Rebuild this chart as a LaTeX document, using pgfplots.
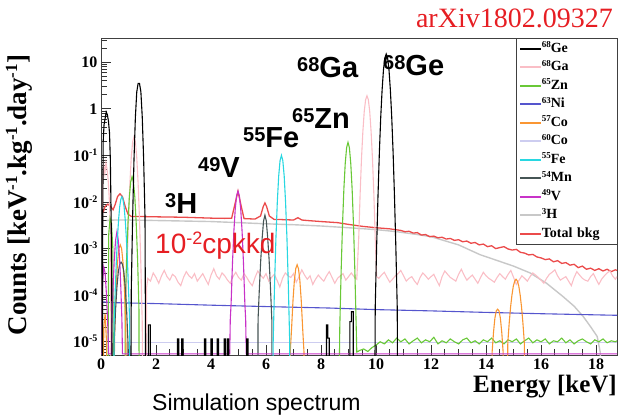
\documentclass[border=0pt]{standalone}
\usepackage{fontspec}
\setmainfont{Liberation Serif}
\newfontfamily\arial{Liberation Sans}
\usepackage{pgfplots}
\pgfplotsset{compat=1.18}

\definecolor{cGe}{RGB}{0,0,0}
\definecolor{cGa}{RGB}{250,190,198}
\definecolor{cZn}{RGB}{105,200,55}
\definecolor{cNi}{RGB}{85,85,205}
\definecolor{cCoS}{RGB}{250,150,50}
\definecolor{cCoO}{RGB}{205,205,240}
\definecolor{cFe}{RGB}{40,215,225}
\definecolor{cMn}{RGB}{70,85,85}
\definecolor{cV}{RGB}{200,50,200}
\definecolor{cH}{RGB}{200,200,200}
\definecolor{cTot}{RGB}{235,75,75}
\definecolor{cRed}{RGB}{230,30,35}

\newcommand\fs[1]{\fontsize{#1}{#1}\selectfont}
% raise, size, text
\newcommand\up[3]{\raisebox{#1}{\fs{#2}#3}}
\newcommand\lsup[1]{\up{4.5pt}{9}{#1}}

\begin{document}
\begin{tikzpicture}
\useasboundingbox (0pt,0pt) rectangle (628pt,416pt);
\begin{axis}[
  at={(101pt,61pt)}, anchor=south west,
  scale only axis, width=516pt, height=317pt,
  xmin=0, xmax=18.76, ymode=log, ymin=5.2e-6, ymax=33,
  axis line style={black!75, line width=0.8pt},
  tick align=inside, xtick pos=bottom, ytick pos=left,
  major tick length=10pt, minor tick length=6pt,
  tick style={black!80, line width=0.7pt},
  xtick={0,2,...,18}, minor x tick num=3,
  xticklabels={0,2,4,6,8,10,12,14,16,18},
  ytick={1e-5,1e-4,1e-3,1e-2,1e-1,1,10},
  yticklabels={10\up{6pt}{10}{-5},10\up{6pt}{10}{-4},10\up{6pt}{10}{-3},10\up{6pt}{10}{-2},10\up{6pt}{10}{-1},1,10},
  minor ytick={6e-6,7e-6,8e-6,9e-6,2e-5,3e-5,4e-5,5e-5,6e-5,7e-5,8e-5,9e-5,2e-4,3e-4,4e-4,5e-4,6e-4,7e-4,8e-4,9e-4,2e-3,3e-3,4e-3,5e-3,6e-3,7e-3,8e-3,9e-3,0.02,0.03,0.04,0.05,0.06,0.07,0.08,0.09,0.2,0.3,0.4,0.5,0.6,0.7,0.8,0.9,2,3,4,5,6,7,8,9,20,30},
  xticklabel style={font=\bfseries\fs{16}},
  yticklabel style={font=\bfseries\fs{16}},
  legend style={at={(1,1)}, anchor=north east, draw=black!75,
    fill=white, font=\bfseries\fs{14}, inner xsep=3pt, inner ysep=3pt,
    row sep=3.5pt, nodes={inner sep=0pt, text height=11pt, text depth=4pt},
    /tikz/every even column/.append style={text width=72pt}},
  legend cell align=left,
  legend image code/.code={\draw[#1, line width=1.6pt] (0pt,0pt) -- (21pt,0pt);},
  every axis plot/.append style={line width=1.1pt},
]

% 60Co
\addplot[forget plot, cCoO] coordinates {(0.5,9.5e-6)(18.76,9.5e-6)};

% 3H
\addplot[forget plot, cH, line width=1.4pt] coordinates {
(0.2,4.0e-3)(0.5,4.1e-3)(1,4.1e-3)(2,4.0e-3)(3,3.9e-3)(4,3.8e-3)(5,3.6e-3)(6,3.4e-3)
(7,3.25e-3)(8,3.05e-3)(9,2.8e-3)(10,2.55e-3)(10.76,2.3e-3)(11.5,2.0e-3)(12,1.8e-3)
(13,1.2e-3)(13.78,7.4e-4)(14.5,5.3e-4)(15.0,4.2e-4)(15.6,3.0e-4)(16.2,1.8e-4)
(16.8,9.3e-5)(17.2,5.8e-5)(17.53,3.5e-5)(17.8,2.1e-5)(18.04,1.3e-5)(18.15,6e-6)(18.22,1e-7)};

% Total bkg
\addplot[forget plot, cTot, line width=1.3pt] coordinates {
(0.08,6e-3)(0.15,8e-3)(0.25,9e-3)(0.35,8e-3)(0.44,6.8e-3)(0.52,9e-3)(0.6,0.013)(0.69,0.015)
(0.78,0.013)(0.88,8e-3)(0.98,5.5e-3)(1.1,4.9e-3)(1.3,4.9e-3)(1.6,4.85e-3)(2,4.8e-3)
(2.5,4.75e-3)(3,4.7e-3)(3.5,4.6e-3)(4,4.5e-3)(4.5,4.45e-3)(4.75,4.5e-3)(4.85,8e-3)
(4.98,0.017)(5.1,8e-3)(5.2,4.4e-3)(5.6,4.3e-3)(5.8,5e-3)(5.9,8e-3)(5.96,9.5e-3)
(6.02,8e-3)(6.12,5e-3)(6.3,4.2e-3)(6.5,4.2e-3)(7.0,4.1e-3)(7.16,4.6e-3)(7.3,4.1e-3)
(7.5,4.0e-3)(8.0,3.8e-3)(8.6,3.6e-3)(9.0,3.3e-3)(9.5,3.0e-3)(10.0,2.8e-3)(10.5,2.65e-3)
(10.8,2.5e-3)(10.9,2.45e-3)(11.05,2.3e-3)(11.2,2.35e-3)(11.35,2.15e-3)(11.5,2.2e-3)
(11.65,1.95e-3)(11.8,2.0e-3)(11.95,1.8e-3)(12.1,1.85e-3)(12.25,1.7e-3)(12.4,1.75e-3)
(12.55,1.6e-3)(12.7,1.65e-3)(12.85,1.5e-3)(13.0,1.55e-3)(13.15,1.4e-3)(13.3,1.45e-3)
(13.45,1.3e-3)(13.6,1.35e-3)(13.75,1.2e-3)(13.9,1.25e-3)(14.05,1.1e-3)(14.2,1.15e-3)
(14.35,1.0e-3)(14.5,1.05e-3)(14.65,1.1e-3)(14.8,0.98e-3)(14.95,0.93e-3)(15.1,0.96e-3)
(15.25,0.83e-3)(15.4,0.8e-3)(15.55,0.73e-3)(15.7,0.75e-3)(15.85,0.66e-3)(16.0,0.63e-3)
(16.15,0.58e-3)(16.3,0.6e-3)(16.45,0.52e-3)(16.6,0.55e-3)(16.75,0.48e-3)(16.9,0.5e-3)
(17.05,0.44e-3)(17.2,0.46e-3)(17.35,0.39e-3)(17.5,0.42e-3)(17.65,0.36e-3)(17.8,0.38e-3)
(17.95,0.34e-3)(18.1,0.37e-3)(18.25,0.33e-3)(18.4,0.36e-3)(18.55,0.32e-3)(18.7,0.35e-3)
(18.76,0.34e-3)};

% 63Ni
\addplot[forget plot, cNi] coordinates {
(0.02,7.2e-5)(0.5,6.9e-5)(2,6.6e-5)(4,6.1e-5)(6.5,5.6e-5)(8.3,5.3e-5)(10,4.9e-5)
(12,4.6e-5)(13.8,4.3e-5)(16,4.0e-5)(18.76,3.7e-5)};

% 68Ga
\addplot[forget plot, cGa] coordinates {
(0.05,1e-7)(0.06,0.03)(0.1,0.06)(0.14,0.04)(0.18,0.07)(0.22,0.05)(0.26,0.03)(0.3,0.012)
(0.34,3e-3)(0.38,1e-7)
(0.85,1e-7)(0.9,2.5e-5)(0.95,4.2e-4)(1.0,4.2e-3)(1.05,0.025)(1.1,0.09)(1.15,0.194)
(1.2,0.25)(1.25,0.194)(1.3,0.09)(1.35,0.025)(1.4,4.2e-3)(1.45,4.2e-4)(1.5,2.5e-5)(1.52,1e-7)
(1.64,1e-7)(1.66,1.5e-4)
(1.7,2.3e-4)(1.8,2.0e-4)(1.9,3.0e-4)(2.0,2.4e-4)(2.1,1.8e-4)(2.2,2.6e-4)(2.3,3.4e-4)
(2.4,2.5e-4)(2.5,2.1e-4)(2.6,2.8e-4)(2.7,2.5e-4)(2.8,1.9e-4)(2.9,1.6e-4)(3.0,2.4e-4)
(3.1,3.2e-4)(3.2,2.6e-4)(3.3,2.3e-4)(3.4,2.9e-4)(3.5,2.0e-4)(3.6,2.4e-4)(3.7,2.9e-4)
(3.8,2.2e-4)(3.9,1.7e-4)(4.0,2.7e-4)(4.1,3.7e-4)(4.2,2.6e-4)(4.3,2.2e-4)(4.4,3.0e-4)
(4.5,2.6e-4)(4.6,2.1e-4)(4.7,1.8e-4)(4.8,2.5e-4)(4.9,3.1e-4)(5.0,2.4e-4)(5.1,2.1e-4)
(5.2,2.9e-4)(5.3,2.4e-4)(5.4,1.9e-4)(5.5,1.6e-4)(5.6,2.4e-4)(5.7,3.3e-4)(5.8,2.7e-4)
(5.9,2.3e-4)(6.0,2.9e-4)(6.1,2.0e-4)(6.2,2.4e-4)(6.3,2.8e-4)(6.4,2.1e-4)(6.5,1.5e-4)
(6.6,2.3e-4)(6.7,3.0e-4)(6.8,2.6e-4)(6.9,2.4e-4)(7.0,2.9e-4)(7.1,1.9e-4)(7.2,2.5e-4)
(7.3,3.5e-4)(7.4,2.7e-4)(7.5,2.2e-4)(7.6,2.6e-4)(7.7,1.7e-4)(7.8,2.2e-4)(7.9,2.7e-4)
(8.0,2.3e-4)(8.1,2.0e-4)(8.2,2.6e-4)(8.3,3.2e-4)(8.4,2.4e-4)(8.5,1.8e-4)(8.6,2.3e-4)
(8.7,2.6e-4)(8.8,2.9e-4)(8.9,2.1e-4)(9.0,2.5e-4)(9.1,3.0e-4)(9.2,2.5e-4)(9.3,2.2e-4)
(9.37,1.67e-3)(9.42,0.0144)(9.47,0.084)(9.52,0.32)(9.57,0.87)(9.62,1.56)(9.67,1.9)
(9.72,1.56)(9.77,0.87)(9.82,0.32)(9.87,0.084)(9.92,0.0144)(9.97,1.67e-3)(10.02,2.5e-4)
(10.1,2.3e-4)(10.2,2.7e-4)(10.3,3.1e-4)(10.4,2.4e-4)(10.5,1.9e-4)(10.6,2.2e-4)(10.7,2.6e-4)
(10.8,2.9e-4)(10.9,3.4e-4)(11.0,2.6e-4)(11.1,2.0e-4)(11.2,2.3e-4)(11.3,2.5e-4)(11.4,2.0e-4)
(11.5,1.7e-4)(11.6,2.4e-4)(11.7,3.0e-4)(11.8,2.6e-4)(11.9,2.2e-4)(12.0,2.5e-4)(12.1,2.8e-4)
(12.2,2.1e-4)(12.3,1.6e-4)(12.4,2.5e-4)(12.5,3.3e-4)(12.6,2.8e-4)(12.7,2.4e-4)(12.8,2.2e-4)
(12.9,2.0e-4)(13.0,2.8e-4)(13.1,3.6e-4)(13.2,2.7e-4)(13.3,2.1e-4)(13.4,2.4e-4)(13.5,2.7e-4)
(13.6,2.2e-4)(13.7,1.8e-4)(13.8,2.4e-4)(13.9,3.1e-4)(14.0,2.6e-4)(14.1,2.3e-4)(14.2,2.1e-4)
(14.3,1.9e-4)(14.4,2.4e-4)(14.5,2.9e-4)(14.6,2.5e-4)(14.7,2.2e-4)(14.8,2.8e-4)(14.9,3.4e-4)
(15.0,2.4e-4)(15.1,1.7e-4)(15.2,2.1e-4)(15.3,2.6e-4)(15.4,2.3e-4)(15.5,2.0e-4)(15.6,2.5e-4)
(15.7,3.0e-4)(15.8,2.7e-4)(15.9,2.4e-4)(16.0,2.1e-4)(16.1,1.8e-4)(16.2,2.3e-4)(16.3,2.8e-4)
(16.4,3.1e-4)(16.5,3.5e-4)(16.6,2.6e-4)(16.7,2.1e-4)(16.8,2.3e-4)(16.9,2.5e-4)(17.0,2.0e-4)
(17.1,1.6e-4)(17.2,2.4e-4)(17.3,3.2e-4)(17.4,2.7e-4)(17.5,2.3e-4)(17.6,2.1e-4)(17.7,2.0e-4)
(17.8,2.5e-4)(17.9,2.9e-4)(18.0,2.2e-4)(18.1,1.7e-4)(18.2,2.2e-4)(18.3,2.6e-4)(18.4,3.0e-4)
(18.5,3.3e-4)(18.6,2.6e-4)(18.7,2.2e-4)(18.76,2.5e-4)};

% 65Zn
\addplot[forget plot, cZn] coordinates {
(0.25,1e-7)(0.28,2e-3)(0.33,4.5e-3)(0.38,3.5e-3)(0.43,1e-3)(0.46,1e-7)
(0.87,1e-7)(0.88,5e-5)(0.93,6e-4)(0.98,3.5e-3)(1.03,0.0126)(1.08,0.027)(1.13,0.035)
(1.18,0.027)(1.23,0.0126)(1.28,3.5e-3)(1.33,6e-4)(1.38,5e-5)(1.39,1e-7)
(8.64,1e-7)(8.68,1.9e-5)(8.73,3.2e-4)(8.78,3.2e-3)(8.83,0.019)(8.88,0.068)(8.93,0.147)
(8.98,0.19)(9.03,0.147)(9.08,0.068)(9.13,0.019)(9.18,3.2e-3)(9.23,3.2e-4)(9.28,1.9e-5)
(9.3,6e-6)(9.4,6.5e-6)(9.55,7e-6)(9.7,6.2e-6)(9.85,7.5e-6)(10.0,8.5e-6)(10.15,1.0e-5)
(10.3,0.9e-5)(10.45,1.1e-5)(10.6,0.95e-5)(10.75,1.2e-5)(10.9,1.0e-5)(11.05,1.15e-5)
(11.2,0.9e-5)(11.35,1.05e-5)(11.5,1.2e-5)(11.65,0.95e-5)(11.8,1.1e-5)(11.95,1.0e-5)
(12.1,1.25e-5)(12.25,0.9e-5)(12.4,1.05e-5)(12.55,0.95e-5)(12.7,1.15e-5)(12.85,1.0e-5)
(13.0,0.9e-5)(13.15,1.1e-5)(13.3,1.2e-5)(13.45,0.95e-5)(13.6,1.05e-5)(13.75,0.9e-5)
(13.9,1.1e-5)(14.05,1.0e-5)(14.2,1.2e-5)(14.35,0.95e-5)(14.5,1.05e-5)(14.65,0.9e-5)
(14.8,1.1e-5)(14.95,1.0e-5)(15.1,1.15e-5)(15.25,0.9e-5)(15.4,1.05e-5)(15.55,1.2e-5)
(15.7,0.95e-5)(15.85,1.1e-5)(16.0,1.0e-5)(16.15,1.15e-5)(16.3,0.9e-5)(16.45,1.05e-5)
(16.6,1.0e-5)(16.75,1.2e-5)(16.9,0.95e-5)(17.05,1.1e-5)(17.2,0.9e-5)(17.35,1.05e-5)
(17.5,1.15e-5)(17.65,1.0e-5)(17.8,0.9e-5)(17.95,1.1e-5)(18.1,1.0e-5)(18.25,1.15e-5)
(18.4,0.95e-5)(18.55,1.05e-5)(18.7,1.0e-5)(18.76,1.05e-5)};

% 57Co
\addplot[forget plot, cCoS] coordinates {
(0.08,1e-7)(0.1,2e-5)(0.15,4e-5)(0.2,1e-5)(0.22,1e-7)
(0.45,1e-7)(0.5,2e-5)(0.55,1.5e-4)(0.6,5e-4)(0.65,1e-3)(0.7,1.2e-3)(0.75,1e-3)(0.8,5e-4)
(0.85,1.5e-4)(0.9,2e-5)(0.95,1e-7)
(6.86,1e-7)(6.88,6e-6)(6.93,2e-5)(6.98,7.7e-5)(7.03,2.07e-4)(7.08,3.7e-4)(7.13,4.5e-4)
(7.18,3.7e-4)(7.23,2.07e-4)(7.28,7.7e-5)(7.33,2e-5)(7.38,6e-6)(7.4,1e-7)
(14.2,1e-7)(14.22,6e-6)(14.27,1.6e-5)(14.32,3.2e-5)(14.37,4.6e-5)(14.42,5e-5)(14.47,4.6e-5)
(14.52,3.2e-5)(14.57,1.6e-5)(14.62,6e-6)(14.64,1e-7)
(14.76,1e-7)(14.79,9.7e-6)(14.84,2.5e-5)(14.89,5.5e-5)(14.94,1.0e-4)(14.99,1.56e-4)
(15.04,2.0e-4)(15.09,2.2e-4)(15.14,2.0e-4)(15.19,1.56e-4)(15.24,1.0e-4)(15.29,5.5e-5)
(15.34,2.5e-5)(15.39,9.7e-6)(15.42,1e-7)};

% 54Mn
\addplot[forget plot, cMn] coordinates {
(0.45,1e-7)(0.48,1e-5)(0.53,5e-5)(0.58,1.5e-4)(0.63,3.2e-4)(0.68,4.6e-4)(0.73,5.1e-4)
(0.78,4.6e-4)(0.83,3.2e-4)(0.88,1.5e-4)(0.93,5e-5)(0.98,1e-5)(1.0,1e-7)
(5.7,1e-7)(5.71,3e-5)(5.76,1.5e-4)(5.81,6e-4)(5.86,1.7e-3)(5.91,3.9e-3)(5.96,5.2e-3)
(6.01,3.9e-3)(6.06,1.7e-3)(6.11,6e-4)(6.16,1.5e-4)(6.21,3e-5)(6.22,1e-7)};

% 49V
\addplot[forget plot, cV] coordinates {
(0,5.5e-6)(0.04,5.5e-6)(0.05,1.5e-4)(0.1,4e-4)(0.15,3e-4)(0.2,1e-4)(0.25,2e-5)(0.28,5.5e-6)
(0.38,5.5e-6)(0.4,3e-5)(0.44,1.5e-4)(0.48,5.5e-4)(0.53,1.5e-3)(0.58,2.3e-3)(0.63,1.5e-3)
(0.68,5.5e-4)(0.72,1.5e-4)(0.76,3e-5)(0.78,5.5e-6)
(4.68,5.5e-6)(4.7,3e-5)(4.73,6.6e-5)(4.78,4.9e-4)(4.83,2.3e-3)(4.88,7e-3)(4.93,0.0136)
(4.98,0.017)(5.03,0.0136)(5.08,7e-3)(5.13,2.3e-3)(5.18,4.9e-4)(5.23,6.6e-5)(5.26,3e-5)
(5.28,5.5e-6)(18.76,5.5e-6)};

% 55Fe
\addplot[forget plot, cFe] coordinates {
(0.46,1e-7)(0.48,2.9e-5)(0.52,1.4e-4)(0.56,5.7e-4)(0.6,1.75e-3)(0.64,4.2e-3)(0.68,7.9e-3)
(0.72,0.0114)(0.76,0.013)(0.8,0.0114)(0.84,7.9e-3)(0.88,4.2e-3)(0.92,1.75e-3)(0.96,5.7e-4)
(1.0,1.4e-4)(1.04,2.9e-5)(1.06,1e-7)
(6.24,1e-7)(6.26,1e-5)(6.31,1.7e-4)(6.36,1.7e-3)(6.41,0.01)(6.46,0.036)(6.51,0.0775)
(6.56,0.1)(6.61,0.0775)(6.66,0.036)(6.71,0.01)(6.76,1.7e-3)(6.81,1.7e-4)(6.86,1e-5)(6.88,1e-7)};

% 68Ge
\addplot[forget plot, cGe] coordinates {
(0,1e-7)(0.05,1e-7)(0.06,2e-3)(0.08,0.2)(0.11,0.45)(0.15,0.62)(0.19,0.85)(0.23,0.75)
(0.27,0.55)(0.31,0.3)(0.34,0.08)(0.37,4e-3)(0.39,2e-4)(0.41,1e-7)
(1.08,1e-7)(1.1,1.2e-4)(1.15,4.7e-3)(1.2,0.084)(1.25,0.66)(1.3,2.3)(1.35,3.5)(1.4,3.5)
(1.45,2.3)(1.5,0.66)(1.55,0.084)(1.6,4.7e-3)(1.63,1e-7)
(1.72,1e-7)(1.72,2.3e-5)(1.79,2.3e-5)(1.79,1e-7)
(2.78,1e-7)(2.78,1.15e-5)(2.83,1.15e-5)(2.83,1e-7)
(2.93,1e-7)(2.93,1.15e-5)(2.98,1.15e-5)(2.98,1e-7)
(3.76,1e-7)(3.76,1.15e-5)(3.81,1.15e-5)(3.81,1e-7)
(4.0,1e-7)(4.0,1.15e-5)(4.05,1.15e-5)(4.05,1e-7)
(4.22,1e-7)(4.22,1.15e-5)(4.27,1.15e-5)(4.27,1e-7)
(4.48,1e-7)(4.48,1.15e-5)(4.53,1.15e-5)(4.53,1e-7)
(4.6,1e-7)(4.6,1.15e-5)(4.65,1.15e-5)(4.65,1e-7)
(5.3,1e-7)(5.3,1.15e-5)(5.35,1.15e-5)(5.35,1e-7)
(8.2,1e-7)(8.2,2.3e-5)(8.25,2.3e-5)(8.25,1.2e-5)(8.3,1.2e-5)(8.3,1e-7)
(9.05,1e-7)(9.05,2.7e-5)(9.1,2.7e-5)(9.1,4.4e-5)(9.17,4.4e-5)(9.17,1e-7)
(9.95,1e-7)(9.97,5.5e-5)(10.02,1.05e-3)(10.07,0.0132)(10.12,0.114)(10.17,0.66)(10.22,2.55)
(10.27,6.9)(10.32,12.3)(10.37,15)(10.42,12.3)(10.47,6.9)(10.52,2.55)(10.57,0.66)
(10.62,0.114)(10.67,0.0132)(10.72,1.05e-3)(10.77,5.5e-5)(10.79,1e-7)};

\addlegendimage{cGe}\addlegendentry{\lsup{68}Ge}
\addlegendimage{cGa}\addlegendentry{\lsup{68}Ga}
\addlegendimage{cZn}\addlegendentry{\lsup{65}Zn}
\addlegendimage{cNi}\addlegendentry{\lsup{63}Ni}
\addlegendimage{cCoS}\addlegendentry{\lsup{57}Co}
\addlegendimage{cCoO}\addlegendentry{\lsup{60}Co}
\addlegendimage{cFe}\addlegendentry{\lsup{55}Fe}
\addlegendimage{cMn}\addlegendentry{\lsup{54}Mn}
\addlegendimage{cV}\addlegendentry{\lsup{49}V}
\addlegendimage{cH}\addlegendentry{\lsup{3}H}
\addlegendimage{cTot}\addlegendentry{Total bkg}
\end{axis}

% annotations
\begin{scope}[every node/.style={inner sep=0pt, anchor=base west}]
\node[font=\arial\bfseries\fs{29}] at (383pt,341pt) {\up{6pt}{20}{68}Ge};
\node[font=\arial\bfseries\fs{29}] at (297pt,338pt) {\up{6pt}{20}{68}Ga};
\node[font=\arial\bfseries\fs{29}] at (292pt,288pt) {\up{6pt}{20}{65}Zn};
\node[font=\arial\bfseries\fs{29}] at (243pt,269pt) {\up{6pt}{20}{55}Fe};
\node[font=\arial\bfseries\fs{29}] at (198pt,239pt) {\up{6pt}{20}{49}V};
\node[font=\arial\bfseries\fs{29}] at (165pt,203pt) {\up{6pt}{20}{3}H};
\node[font=\arial\fs{28}, text=cRed] at (155pt,163pt) {10\up{9pt}{18}{-2}cpkkd};
\node[font=\fs{28}, text=cRed, anchor=base east] at (613pt,388pt) {arXiv1802.09327};
\node[font=\bfseries\fs{25}, anchor=base east] at (617pt,24pt) {Energy [keV]};
\node[font=\arial\fs{23}] at (152pt,6pt) {Simulation spectrum};
\end{scope}
\node[rotate=90, inner sep=0pt, font=\bfseries\fs{27}] at (19pt,221pt)
  {Counts [keV\up{9pt}{17}{-1}.kg\up{9pt}{17}{-1}.day\up{9pt}{17}{-1}]};
\end{tikzpicture}
\end{document}
